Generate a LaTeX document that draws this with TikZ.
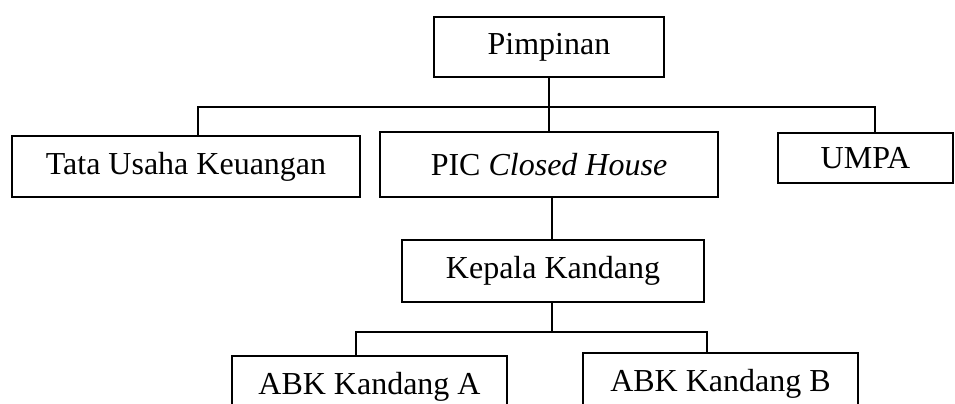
\documentclass[tikz,border=0pt]{standalone}
\usepackage{fontspec}
\setmainfont{Liberation Serif}
\begin{document}
\begin{tikzpicture}[x=0.5pt, y=-0.5pt]
    \tikzstyle{every node}=[align=center, font=\fontsize{16}{19}\selectfont];
    \tikzstyle{unit} = [draw, line width=0.9pt, inner sep=0pt]
    \tikzstyle{link} = [line width=0.9pt]

    \clip (0,0) rectangle (955,403);

    \node[unit, minimum width=115pt, minimum height=30pt] (Pimpinan) at (549,47) {Pimpinan};
    \node[unit, minimum width=174pt, minimum height=30.5pt] (TataUsaha) at (186,166.5) {Tata Usaha Keuangan};
    \node[unit, minimum width=169pt, minimum height=32.5pt] (PIC) at (549,164.5) {PIC \textit{Closed House}};
    \node[unit, minimum width=87.5pt, minimum height=25pt] (UMPA) at (865.5,158) {UMPA};
    \node[unit, minimum width=151pt, minimum height=31pt] (Kepala) at (553,271) {Kepala Kandang};
    \node[unit, minimum width=137.5pt, minimum height=31pt] (ABKA) at (369.5,387) {ABK Kandang A};
    \node[unit, minimum width=137.5pt, minimum height=31pt] (ABKB) at (720.5,384) {ABK Kandang B};

    \coordinate (busTop) at (549,107);
    \coordinate (busTopL) at (198,107);
    \coordinate (busTopR) at (875,107);
    \coordinate (picDrop) at (552,0);
    \coordinate (busLow) at (552,332);
    \coordinate (busLowL) at (356,332);
    \coordinate (busLowR) at (707,332);

    \draw[link] (Pimpinan.south) -- (busTop);
    \draw[link] (busTopL |- TataUsaha.north) -- (busTopL) -- (busTopR) -- (busTopR |- UMPA.north);
    \draw[link] (busTop) -- (PIC.north);
    \draw[link] (picDrop |- PIC.south) -- (picDrop |- Kepala.north);

    \draw[link] (picDrop |- Kepala.south) -- (busLow);
    \draw[link] (busLowL |- ABKA.north) -- (busLowL) -- (busLowR) -- (busLowR |- ABKB.north);

\end{tikzpicture}
\end{document}
